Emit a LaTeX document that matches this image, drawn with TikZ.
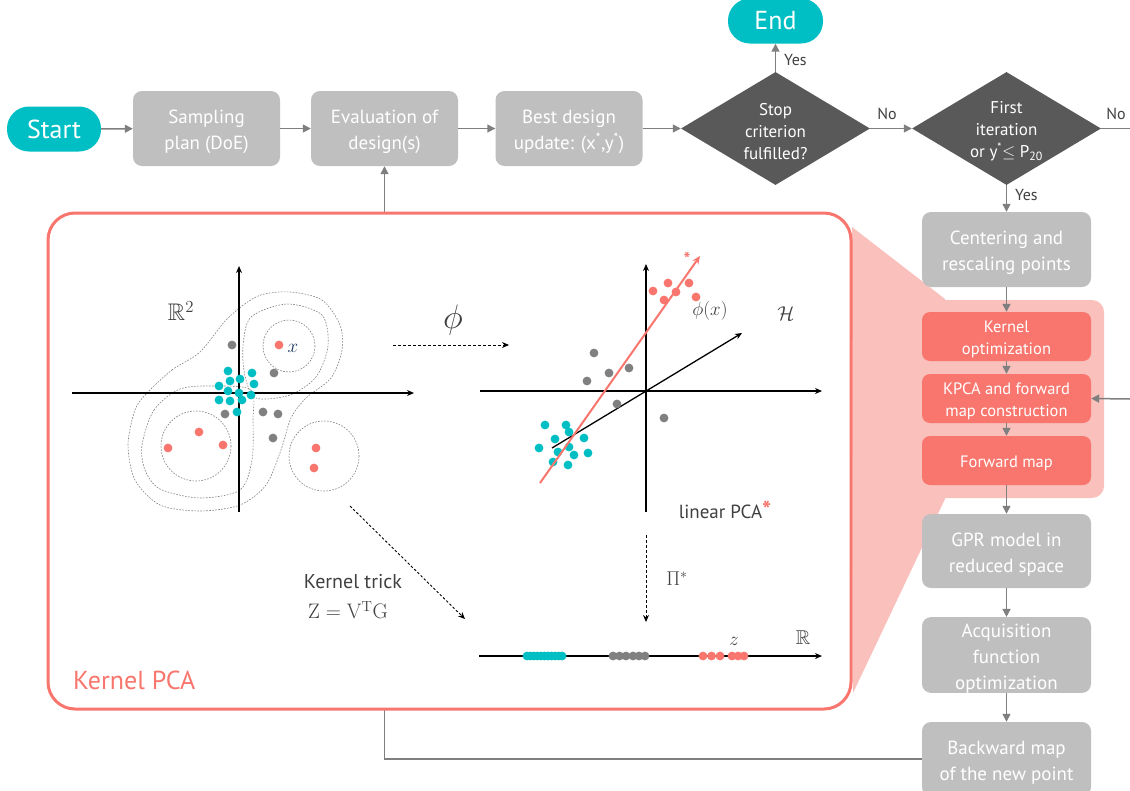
\RequirePackage{fix-cm}
\documentclass[tikz,border=0pt]{standalone}
\usepackage{amsmath,amssymb}
\usepackage[no-math]{fontspec}
\setmainfont{PT Sans}
\usetikzlibrary{shapes.geometric,arrows.meta}
\definecolor{tealc}{HTML}{00BFC4}
\definecolor{salmon}{HTML}{F8766D}
\definecolor{pinkbg}{HTML}{F9C0BC}
\definecolor{boxgray}{HTML}{BFBFBF}
\definecolor{diamgray}{HTML}{595959}
\definecolor{arrgray}{HTML}{7F7F7F}
\definecolor{dotgray}{HTML}{808080}
\definecolor{txtdark}{HTML}{404040}
\definecolor{navyx}{HTML}{1F3864}
\newcommand{\lowerstrut}{\rule{0pt}{1.05em}}
\tikzset{
  pill/.style={fill=tealc, rounded corners=22pt, text=white, minimum height=45pt, inner sep=0pt, font=\fontsize{26}{28}\selectfont},
  topbox/.style={fill=boxgray, rounded corners=9pt, text=white, align=center, minimum width=147pt, minimum height=75pt, inner sep=0pt, font=\fontsize{19}{26}\selectfont},
  colbox/.style={fill=boxgray, rounded corners=9pt, text=white, align=center, minimum width=169pt, minimum height=75pt, inner sep=0pt, font=\fontsize{19}{26}\selectfont},
  redbox/.style={fill=salmon, rounded corners=8pt, text=white, align=center, minimum width=169pt, minimum height=49pt, inner sep=0pt, font=\fontsize{16.5}{22}\selectfont},
  decision/.style={diamond, aspect=1.66, fill=diamgray, text=white, align=center, minimum width=189pt, minimum height=113pt, inner sep=0pt, font=\fontsize{17}{22}\selectfont},
  flow/.style={draw=arrgray, line width=1.5pt, -{Triangle[length=8pt,width=8pt]}},
  yn/.style={text=txtdark, font=\fontsize{16}{18}\selectfont, inner sep=0pt},
  axisline/.style={draw=black, line width=1.3pt, -{Stealth[length=7pt,width=6pt]}},
  dashar/.style={draw=black, line width=0.9pt, dash pattern=on 3pt off 2pt, -{Stealth[length=7pt,width=6pt]}},
  contour/.style={draw=dotgray, line width=0.6pt, dash pattern=on 1.6pt off 1.4pt},
  mlabel/.style={text=txtdark, inner sep=0pt},
}
\begin{document}
\begin{tikzpicture}[x=1pt,y=-1pt]
\useasboundingbox (0,0) rectangle (1130,790);
% pink funnel and background
\fill[pinkbg] (852,227) -- (945,299) -- (945,499) -- (853,693) -- cycle;
\fill[pinkbg, rounded corners=12pt] (908,300) rectangle (1104,498);

% flowchart nodes
\node[pill, minimum width=94pt] (start) at (54,129) {Start};
\node[topbox] (samp) at (206.5,128.5) {\lowerstrut Sampling\\plan (DoE)};
\node[topbox] (eval) at (384.5,128.5) {\lowerstrut Evaluation of\\design(s)};
\node[topbox] (best) at (569,128.5) {\lowerstrut Best design\\update: (x\textsuperscript{*},y\textsuperscript{*})};
\node[decision] (d1) at (775.5,128.5) {\lowerstrut Stop\\criterion\\fulfilled?};
\node[decision] (d2) at (1006.5,128.5) {\lowerstrut First\\iteration\\or y\textsuperscript{*}$\leq$ P\textsubscript{20}};
\node[pill, minimum width=95pt] (endn) at (775.5,21) {End};
\node[colbox] (cent) at (1006.5,249.5) {\lowerstrut Centering and\\rescaling points};
\node[redbox] (kopt) at (1006.5,336.5) {\lowerstrut Kernel\\optimization};
\node[redbox] (kpcab) at (1006.5,398.5) {\lowerstrut KPCA and forward\\map construction};
\node[redbox] (fwd) at (1006.5,460.5) {\lowerstrut Forward map};
\node[colbox, minimum height=74pt] (gpr) at (1006.5,551) {\lowerstrut GPR model in\\reduced space};
\node[colbox, minimum height=74pt] (acq) at (1006.5,655) {\lowerstrut Acquisition\\function\\optimization};
\node[colbox, minimum height=74pt] (back) at (1006.5,759) {\lowerstrut Backward map\\of the new point};
\coordinate (rightin) at (1130,399);
\coordinate (rightout) at (1130,128.5);

% connectors
\draw[flow] (start) -- (samp);
\draw[flow] (samp) -- (eval);
\draw[flow] (eval) -- (best);
\draw[flow] (best) -- (d1);
\draw[flow] (d1) -- (d2);
\draw[flow] (d1.north) -- (endn.south);
\draw[draw=arrgray, line width=1.5pt] (d2.east) -- (rightout);
\draw[flow] (d2.south) -- (cent.north);
\draw[flow] (cent) -- (kopt);
\draw[flow] (kopt) -- (kpcab);
\draw[flow] (kpcab) -- (fwd);
\draw[flow] (fwd) -- (gpr);
\draw[flow] (gpr) -- (acq);
\draw[flow] (acq) -- (back);
\draw[flow] (rightin) -- (kpcab.east);
\draw[flow] (back.west) -| (eval.south);

\node[yn, anchor=west] at (784,60) {Yes};
\node[yn, anchor=west] at (1015,195) {Yes};
\node[yn] at (887,114) {No};
\node[yn] at (1116,114) {No};

% Kernel PCA panel
\node[draw=salmon, line width=3pt, fill=white, rounded corners=27pt, minimum width=803pt, minimum height=496pt, inner sep=0pt] (kpca) at (449.5,461) {};
\node[text=salmon, anchor=west, inner sep=0pt, font=\fontsize{26}{28}\selectfont] (kpcalabel) at (73,680) {Kernel PCA};

% ---- left plot (R^2) ----
\draw[contour] (289,346) circle (26);
\draw[contour] plot[smooth cycle] coordinates {(243,346) (251,317) (287,304) (322,315) (328,346) (316,377) (290,395) (256,398) (245,376)};
\draw[contour] (196,446) circle (35);
\draw[contour] plot[smooth cycle] coordinates {(142,445) (154,410) (180,389) (215,386) (251,390) (253,420) (252,460) (240,490) (200,498) (160,489) (145,470)};
\draw[contour] (324,456) circle (35);
\draw[contour] plot[smooth cycle] coordinates {(147,393) (172,370) (200,352) (228,318) (258,296) (290,292) (322,300) (340,325) (342,350) (331,378) (306,398) (291,418) (281,450) (266,485) (240,505) (200,511) (160,505) (135,480) (128,445) (135,410)};
\draw[axisline] (72,393) -- (414,393);
\draw[axisline] (239,512) -- (239,266);
\foreach \p in {(279,345),(199,432),(168,448),(223,445),(316,448),(314,468)} \fill[salmon] \p circle (4.4);
\foreach \p in {(232,345),(274,373),(225,414),(263,412),(278,414),(273,438)} \fill[dotgray] \p circle (4.4);
\foreach \p in {(228,371),(252,373),(230,381),(240,379),(254,384),(219,386),(228,391),(239,393),(251,395),(219,400),(230,401),(242,400),(237,412)} \fill[tealc] \p circle (4.4);
\node[mlabel, font=\fontsize{24}{26}\selectfont] (r2) at (181,311) {$\mathbb{R}^2$};
\node[text=navyx, inner sep=0pt, font=\fontsize{19}{20}\selectfont] (xl) at (293,348) {$x$};

% phi map
\coordinate (phis) at (393,345);
\coordinate (phie) at (509,345);
\draw[dashar] (phis) -- (phie);
\node[mlabel, font=\fontsize{34}{36}\selectfont] (phil) at (453,320) {$\phi$};

% ---- right plot (H) ----
\draw[axisline] (480,391) -- (822,391);
\draw[axisline] (646,512) -- (646,264);
\draw[draw=black, line width=1.3pt, -{Stealth[length=7pt,width=6pt]}] (552,448) -- (742,333);
\foreach \p in {(653,291),(668,283),(676,292),(689,283),(664,300),(696,297)} \fill[salmon] \p circle (4.4);
\foreach \p in {(594,353),(609,373),(629,368),(587,381),(617,404),(664,418)} \fill[dotgray] \p circle (4.4);
\foreach \p in {(545,425),(566,425),(569,432),(555,439),(584,438),(539,448),(558,452),(569,447),(574,455),(588,453),(553,462),(568,465)} \fill[tealc] \p circle (4.4);
\draw[draw=salmon, line width=2pt, -{Stealth[length=8pt,width=7pt]}] (540,483) -- (700,256);
\node[text=salmon, inner sep=0pt, font=\fontsize{18}{18}\selectfont\bfseries] (ast) at (687,259) {*};
\node[mlabel, font=\fontsize{19}{20}\selectfont] (phix) at (710,311) {$\phi(x)$};
\node[mlabel, font=\fontsize{20}{22}\selectfont] (hl) at (786,314) {$\mathcal{H}$};
\node[mlabel, font=\fontsize{19}{20}\selectfont] (lpca) at (725,510) {linear PCA{\color{salmon}\fontsize{24}{24}\selectfont\bfseries*}};

% kernel trick and projection
\coordinate (kts) at (350,506);
\coordinate (kte) at (465,619);
\draw[dashar, dash pattern=on 2.5pt off 2pt] (kts) -- (kte);
\node[mlabel, font=\fontsize{20}{22}\selectfont] (ktl) at (353,582) {Kernel trick};
\node[mlabel, font=\fontsize{21}{22}\selectfont] (ztl) at (348,610) {$\mathrm{Z}=\mathrm{V}^{\mathrm{T}}\mathrm{G}$};
\coordinate (pis) at (646,535);
\coordinate (pie) at (646,622);
\draw[dashar] (pis) -- (pie);
\node[mlabel, font=\fontsize{20}{22}\selectfont] (pil) at (677,579) {$\Pi^{*}$};

% ---- bottom axis (R) ----
\draw[axisline] (479,656) -- (822,656);
\foreach \x in {527,530.5,534,537.5,541,544.5,548,551.5,555,558.5,562} \fill[tealc] (\x,656) circle (4.4);
\foreach \x in {613,619.5,626,633,639,645} \fill[dotgray] (\x,656) circle (4.4);
\foreach \x in {703,711.5,720,732,738,744} \fill[salmon] (\x,656) circle (4.4);
\node[mlabel, font=\fontsize{19}{20}\selectfont] (zl) at (734,641) {$z$};
\node[mlabel, font=\fontsize{20}{22}\selectfont] (rl) at (803,638) {$\mathbb{R}$};
\end{tikzpicture}
\end{document}
